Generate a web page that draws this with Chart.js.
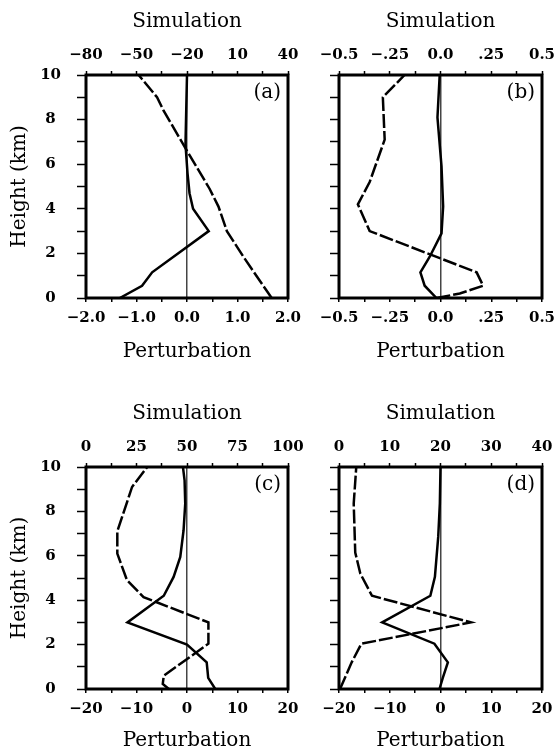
<!DOCTYPE html>
<html><head><meta charset="utf-8">
<script src="https://cdn.jsdelivr.net/npm/chart.js@4"></script>
<style>
html,body{margin:0;padding:0;background:#fff;width:555px;height:750px;overflow:hidden;position:relative}
canvas{position:absolute}
</style></head><body>
<canvas id="ca"></canvas>
<canvas id="cb"></canvas>
<canvas id="cc"></canvas>
<canvas id="cd"></canvas>
<script>
// ---- Tick labels ----
const heightLabels = ['0', '2', '4', '6', '8', '10'];
const aBottomLabels = ['\u22122.0', '\u22121.0', '0.0', '1.0', '2.0'];
const aTopLabels = ['\u221280', '\u221250', '\u221220', '10', '40'];
const bBottomLabels = ['\u22120.5', '\u2212.25', '0.0', '.25', '0.5'];
const bTopLabels = ['\u22120.5', '\u2212.25', '0.0', '.25', '0.5'];
const cBottomLabels = ['\u221220', '\u221210', '0', '10', '20'];
const cTopLabels = ['0', '25', '50', '75', '100'];
const dBottomLabels = ['\u221220', '\u221210', '0', '10', '20'];
const dTopLabels = ['0', '10', '20', '30', '40'];

// ---- Panel (a): solid = perturbation (bottom axis), dashed = simulation (top axis) ----
const aSolidH = [0, 0.55, 1.15, 3.0, 4.0, 4.7, 5.6, 6.9, 10];
const aSolidX = [-1.33, -0.89, -0.69, 0.43, 0.12, 0.05, 0.01, -0.03, 0];
const aDashH = [0, 1.85, 3.0, 4.1, 4.9, 6.6, 8.4, 9.0, 9.55, 10];
const aDashX = [30.3, 13.5, 3.7, -1.3, -6.6, -20, -33.9, -37.8, -43.8, -48.7];

// ---- Panel (b) ----
const bSolidH = [0, 0.55, 1.15, 1.85, 2.9, 4.1, 5.9, 8.1, 10];
const bSolidX = [-0.02, -0.078, -0.099, -0.053, 0.005, 0.013, 0.005, -0.015, -0.004];
const bDashH = [0, 0.2, 0.55, 1.15, 3.0, 4.2, 5.2, 7.1, 9.0, 10];
const bDashX = [-0.02, 0.095, 0.21, 0.178, -0.349, -0.407, -0.349, -0.275, -0.284, -0.177];

// ---- Panel (c) ----
const cSolidH = [0, 0.5, 1.2, 2.0, 3.0, 4.2, 5.05, 5.95, 7.15, 8.35, 9.4, 10];
const cSolidX = [5.6, 4.2, 3.9, 0, -11.8, -4.6, -2.65, -1.33, -0.68, -0.35, -0.48, -0.8];
const cDashH = [0, 0.23, 0.6, 2.04, 3.0, 4.14, 4.9, 6.1, 7.1, 9.1, 10];
const cDashX = [41, 38, 38.5, 60.6, 60.6, 28.5, 20.3, 15.5, 15.5, 22.8, 30.3];

// ---- Panel (d) ----
const dSolidH = [0, 0.5, 1.2, 2.04, 3.0, 4.2, 5.05, 6.85, 8.35, 10];
const dSolidX = [-0.2, 0.45, 1.45, -1.2, -11.5, -2.0, -1.1, -0.45, -0.13, 0];
const dDashH = [0, 1.2, 2.04, 3.0, 4.2, 5.2, 6.15, 8.35, 10];
const dDashX = [0.2, 2.5, 4.4, 26, 6.5, 4.2, 3.2, 2.9, 3.4];

const TICK_FONT = {family: 'DejaVu Serif', size: 15, weight: 'bold'};
const TITLE_FONT = {family: 'DejaVu Serif', size: 20, weight: 'normal'};

const framePlugin = {
  id: 'frame',
  afterDatasetsDraw(chart, args, opts) {
    const {ctx, chartArea: a} = chart;
    ctx.save();
    ctx.lineWidth = 3;
    ctx.strokeStyle = '#000';
    ctx.strokeRect(a.left, a.top, a.right - a.left, a.bottom - a.top);
    ctx.font = '20px "DejaVu Serif"';
    ctx.fillStyle = '#000';
    ctx.textAlign = 'right';
    ctx.textBaseline = 'middle';
    ctx.fillText(opts.text, a.right - 7, a.top + 18);
    ctx.restore();
  }
};

function pts(xs, hs) { return xs.map((x, i) => ({x: x, y: hs[i]})); }
function halfLabels(labels) { return (v, i) => (i % 2 === 0 ? labels[i / 2] : ''); }

function makePanel(p) {
  const cv = document.getElementById(p.id);
  cv.width = p.w; cv.height = p.h;
  cv.style.left = p.left + 'px'; cv.style.top = p.top + 'px';
  cv.style.width = p.w + 'px'; cv.style.height = p.h + 'px';
  new Chart(cv, {
    type: 'scatter',
    data: {
      datasets: [
        {data: pts(p.solidX, p.solidH), xAxisID: 'x', yAxisID: 'y', showLine: true,
         borderColor: '#000', borderWidth: 2.5, pointRadius: 0, tension: 0, fill: false},
        {data: pts(p.dashX, p.dashH), xAxisID: 'x2', yAxisID: 'y', showLine: true,
         borderColor: '#000', borderWidth: 2.5, borderDash: [14, 3], pointRadius: 0, tension: 0, fill: false}
      ]
    },
    options: {
      responsive: false, animation: false, devicePixelRatio: 1,
      layout: {padding: {left: 0, top: 0, right: p.padRight, bottom: 0}},
      plugins: {legend: {display: false}, tooltip: {enabled: false}, frame: {text: p.label}},
      scales: {
        x: {
          type: 'linear', position: 'bottom', min: p.xMin, max: p.xMax,
          ticks: {stepSize: p.xStep, autoSkip: false, maxRotation: 0, padding: 7, color: '#000',
                  font: TICK_FONT, callback: halfLabels(p.xLabels)},
          grid: {drawOnChartArea: true, tickLength: 4, tickColor: '#000', tickWidth: 1.5,
                 color: c => (c.tick && Math.abs(c.tick.value) < 1e-9 ? '#444' : 'rgba(0,0,0,0)'),
                 lineWidth: 1.5},
          border: {display: false},
          title: {display: true, text: 'Perturbation', color: '#000', font: TITLE_FONT, padding: {top: 0, bottom: 11}},
          afterFit: s => { s.height = p.bottomH; s.paddingLeft = 0; s.paddingRight = 0; }
        },
        x2: {
          type: 'linear', position: 'top', min: p.x2Min, max: p.x2Max,
          ticks: {stepSize: p.x2Step, autoSkip: false, maxRotation: 0, padding: 7, color: '#000',
                  font: TICK_FONT, callback: halfLabels(p.x2Labels)},
          grid: {drawOnChartArea: false, tickLength: 4, tickColor: '#000', tickWidth: 1.5},
          border: {display: false},
          title: {display: true, text: 'Simulation', color: '#000', font: TITLE_FONT, padding: {top: 10, bottom: 0}},
          afterFit: s => { s.height = 75; s.paddingLeft = 0; s.paddingRight = 0; }
        },
        y: {
          type: 'linear', position: 'left', min: 0, max: 10,
          ticks: {stepSize: 1, autoSkip: false, padding: 16, crossAlign: 'center', color: '#000',
                  font: TICK_FONT, callback: (v, i) => (p.showY && i % 2 === 0 ? heightLabels[i / 2] : '')},
          grid: {drawOnChartArea: false, tickLength: 9, tickColor: '#000', tickWidth: 1.5},
          border: {display: false},
          title: {display: p.showY, text: 'Height (km)', color: '#000', font: TITLE_FONT, padding: {top: 8, bottom: 0}},
          afterFit: s => { s.width = p.yWidth; s.paddingTop = 0; s.paddingBottom = 0; }
        }
      }
    },
    plugins: [framePlugin]
  });
}

makePanel({id: 'ca', left: 0, top: 0, w: 305, h: 375, yWidth: 86, padRight: 17, bottomH: 77, showY: true, label: '(a)',
  xMin: -2, xMax: 2, xStep: 0.5, xLabels: aBottomLabels,
  x2Min: -80, x2Max: 40, x2Step: 15, x2Labels: aTopLabels,
  solidX: aSolidX, solidH: aSolidH, dashX: aDashX, dashH: aDashH});
makePanel({id: 'cb', left: 290, top: 0, w: 265, h: 375, yWidth: 49, padRight: 13, bottomH: 77, showY: false, label: '(b)',
  xMin: -0.5, xMax: 0.5, xStep: 0.125, xLabels: bBottomLabels,
  x2Min: -0.5, x2Max: 0.5, x2Step: 0.125, x2Labels: bTopLabels,
  solidX: bSolidX, solidH: bSolidH, dashX: bDashX, dashH: bDashH});
makePanel({id: 'cc', left: 0, top: 392, w: 305, h: 372, yWidth: 86, padRight: 17, bottomH: 75, showY: true, label: '(c)',
  xMin: -20, xMax: 20, xStep: 5, xLabels: cBottomLabels,
  x2Min: 0, x2Max: 100, x2Step: 12.5, x2Labels: cTopLabels,
  solidX: cSolidX, solidH: cSolidH, dashX: cDashX, dashH: cDashH});
makePanel({id: 'cd', left: 290, top: 392, w: 265, h: 372, yWidth: 49, padRight: 13, bottomH: 75, showY: false, label: '(d)',
  xMin: -20, xMax: 20, xStep: 5, xLabels: dBottomLabels,
  x2Min: 0, x2Max: 40, x2Step: 5, x2Labels: dTopLabels,
  solidX: dSolidX, solidH: dSolidH, dashX: dDashX, dashH: dDashH});
</script>
</body></html>
